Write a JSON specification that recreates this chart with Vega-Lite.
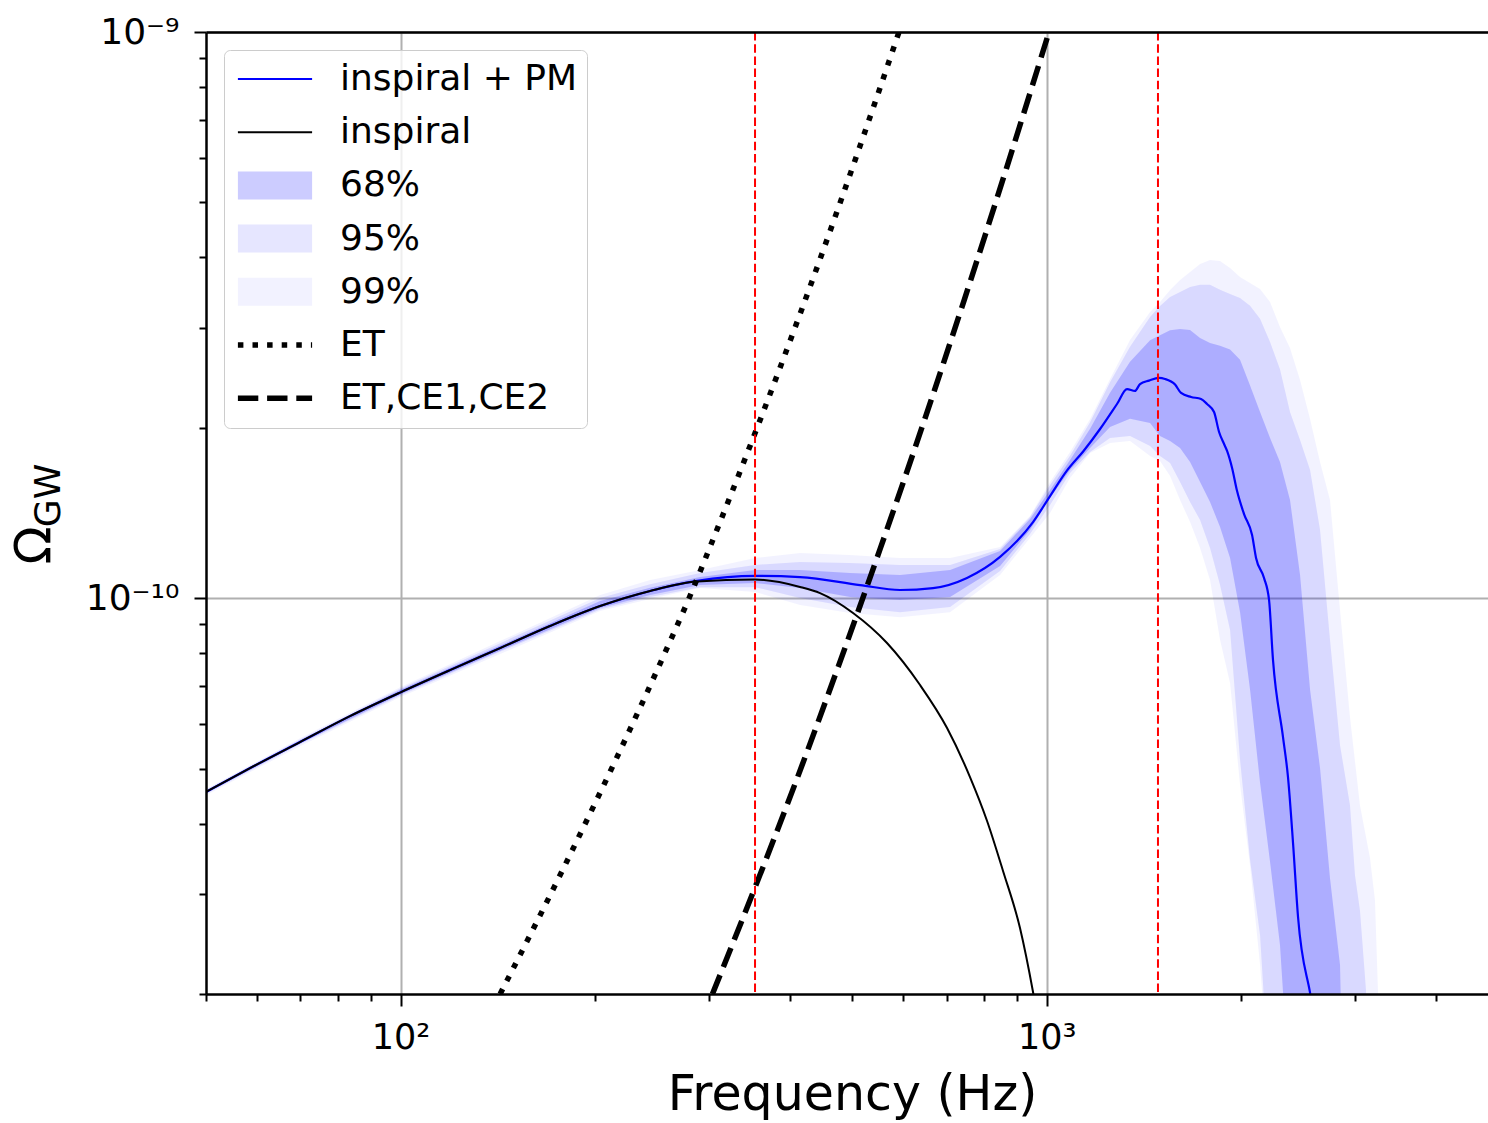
{
  "$schema": "https://vega.github.io/schema/vega-lite/v6.json",
  "width": 1282,
  "height": 962,
  "autosize": {"type": "none"},
  "padding": {"left": 206, "top": 32, "right": 0, "bottom": 129},
  "background": "white",
  "config": {"view": {"stroke": null}, "font": "DejaVu Sans"},
  "resolve": {"axis": {"x": "independent", "y": "independent"}},
  "datasets": {
    "b99": [
      {"f": 50, "lo": 4.49e-11, "hi": 4.60e-11},
      {"f": 69.9, "lo": 5.48e-11, "hi": 5.66e-11},
      {"f": 100, "lo": 6.69e-11, "hi": 6.97e-11},
      {"f": 142.6, "lo": 7.97e-11, "hi": 8.40e-11},
      {"f": 203.6, "lo": 9.49e-11, "hi": 1.013e-10},
      {"f": 243.3, "lo": 9.97e-11, "hi": 1.077e-10},
      {"f": 290.7, "lo": 1.042e-10, "hi": 1.122e-10},
      {"f": 353.6, "lo": 1.026e-10, "hi": 1.178e-10},
      {"f": 415.1, "lo": 9.73e-11, "hi": 1.202e-10},
      {"f": 496.2, "lo": 9.42e-11, "hi": 1.192e-10},
      {"f": 592.8, "lo": 9.26e-11, "hi": 1.178e-10},
      {"f": 708.5, "lo": 9.45e-11, "hi": 1.178e-10},
      {"f": 846.6, "lo": 1.099e-10, "hi": 1.232e-10},
      {"f": 941.9, "lo": 1.278e-10, "hi": 1.397e-10},
      {"f": 1011.6, "lo": 1.414e-10, "hi": 1.604e-10},
      {"f": 1086.3, "lo": 1.631e-10, "hi": 1.812e-10},
      {"f": 1166.7, "lo": 1.805e-10, "hi": 2.073e-10},
      {"f": 1252.7, "lo": 1.880e-10, "hi": 2.438e-10},
      {"f": 1345.1, "lo": 1.895e-10, "hi": 2.858e-10},
      {"f": 1444.6, "lo": 1.783e-10, "hi": 3.203e-10},
      {"f": 1496.7, "lo": 1.747e-10, "hi": 3.335e-10},
      {"f": 1551.4, "lo": 1.644e-10, "hi": 3.503e-10},
      {"f": 1607.6, "lo": 1.491e-10, "hi": 3.648e-10},
      {"f": 1666.0, "lo": 1.363e-10, "hi": 3.769e-10},
      {"f": 1726.4, "lo": 1.227e-10, "hi": 3.894e-10},
      {"f": 1788.8, "lo": 1.077e-10, "hi": 3.958e-10},
      {"f": 1853.8, "lo": 8.44e-11, "hi": 3.942e-10},
      {"f": 1921.2, "lo": 7.08e-11, "hi": 3.831e-10},
      {"f": 1990.7, "lo": 4.68e-11, "hi": 3.693e-10},
      {"f": 2063.0, "lo": 3.37e-11, "hi": 3.604e-10},
      {"f": 2137.8, "lo": 2.25e-11, "hi": 3.517e-10},
      {"f": 2215.4, "lo": 1.3e-11, "hi": 3.335e-10},
      {"f": 2295.1, "lo": 1.3e-11, "hi": 3.013e-10},
      {"f": 2378.6, "lo": 1.3e-11, "hi": 2.767e-10},
      {"f": 2465.3, "lo": 1.3e-11, "hi": 2.428e-10},
      {"f": 2554.9, "lo": 1.3e-11, "hi": 2.073e-10},
      {"f": 2647.4, "lo": 1.3e-11, "hi": 1.740e-10},
      {"f": 2743.2, "lo": 1.3e-11, "hi": 1.491e-10},
      {"f": 2842.7, "lo": 1.3e-11, "hi": 9.53e-11},
      {"f": 2945.4, "lo": 1.3e-11, "hi": 6.17e-11},
      {"f": 3052.0, "lo": 1.3e-11, "hi": 4.31e-11},
      {"f": 3162.9, "lo": 1.3e-11, "hi": 3.48e-11},
      {"f": 3219.7, "lo": 1.3e-11, "hi": 2.93e-11},
      {"f": 3254.2, "lo": 1.3e-11, "hi": 2.03e-11},
      {"f": 3277.6, "lo": 1.3e-11, "hi": 1.3e-11}
    ],
    "b95": [
      {"f": 50, "lo": 4.51e-11, "hi": 4.59e-11},
      {"f": 69.9, "lo": 5.52e-11, "hi": 5.63e-11},
      {"f": 100, "lo": 6.73e-11, "hi": 6.93e-11},
      {"f": 142.6, "lo": 8.04e-11, "hi": 8.33e-11},
      {"f": 203.6, "lo": 9.55e-11, "hi": 1.001e-10},
      {"f": 243.3, "lo": 1.005e-10, "hi": 1.059e-10},
      {"f": 290.7, "lo": 1.046e-10, "hi": 1.108e-10},
      {"f": 353.6, "lo": 1.046e-10, "hi": 1.145e-10},
      {"f": 415.1, "lo": 1.001e-10, "hi": 1.159e-10},
      {"f": 496.2, "lo": 9.65e-11, "hi": 1.154e-10},
      {"f": 592.8, "lo": 9.45e-11, "hi": 1.145e-10},
      {"f": 708.5, "lo": 9.65e-11, "hi": 1.145e-10},
      {"f": 846.6, "lo": 1.117e-10, "hi": 1.222e-10},
      {"f": 941.9, "lo": 1.299e-10, "hi": 1.391e-10},
      {"f": 1011.6, "lo": 1.461e-10, "hi": 1.585e-10},
      {"f": 1086.3, "lo": 1.664e-10, "hi": 1.785e-10},
      {"f": 1166.7, "lo": 1.812e-10, "hi": 2.045e-10},
      {"f": 1252.7, "lo": 1.919e-10, "hi": 2.406e-10},
      {"f": 1345.1, "lo": 1.934e-10, "hi": 2.781e-10},
      {"f": 1444.6, "lo": 1.857e-10, "hi": 3.138e-10},
      {"f": 1496.7, "lo": 1.783e-10, "hi": 3.281e-10},
      {"f": 1551.4, "lo": 1.733e-10, "hi": 3.404e-10},
      {"f": 1607.6, "lo": 1.604e-10, "hi": 3.474e-10},
      {"f": 1666.0, "lo": 1.479e-10, "hi": 3.546e-10},
      {"f": 1726.4, "lo": 1.374e-10, "hi": 3.579e-10},
      {"f": 1788.8, "lo": 1.227e-10, "hi": 3.579e-10},
      {"f": 1853.8, "lo": 1.055e-10, "hi": 3.507e-10},
      {"f": 1921.2, "lo": 8.79e-11, "hi": 3.446e-10},
      {"f": 1990.7, "lo": 5.18e-11, "hi": 3.390e-10},
      {"f": 2063.0, "lo": 3.45e-11, "hi": 3.285e-10},
      {"f": 2137.8, "lo": 2.54e-11, "hi": 3.116e-10},
      {"f": 2215.4, "lo": 1.3e-11, "hi": 2.835e-10},
      {"f": 2295.1, "lo": 1.3e-11, "hi": 2.537e-10},
      {"f": 2378.6, "lo": 1.3e-11, "hi": 2.132e-10},
      {"f": 2465.3, "lo": 1.3e-11, "hi": 1.903e-10},
      {"f": 2554.9, "lo": 1.3e-11, "hi": 1.684e-10},
      {"f": 2647.4, "lo": 1.3e-11, "hi": 1.320e-10},
      {"f": 2743.2, "lo": 1.3e-11, "hi": 8.44e-11},
      {"f": 2842.7, "lo": 1.3e-11, "hi": 5.50e-11},
      {"f": 2945.4, "lo": 1.3e-11, "hi": 4.31e-11},
      {"f": 2998.3, "lo": 1.3e-11, "hi": 3.24e-11},
      {"f": 3052.0, "lo": 1.3e-11, "hi": 2.81e-11},
      {"f": 3118.3, "lo": 1.3e-11, "hi": 2.03e-11},
      {"f": 3140.6, "lo": 1.3e-11, "hi": 1.3e-11}
    ],
    "b68": [
      {"f": 50, "lo": 4.53e-11, "hi": 4.57e-11},
      {"f": 69.9, "lo": 5.54e-11, "hi": 5.61e-11},
      {"f": 100, "lo": 6.77e-11, "hi": 6.89e-11},
      {"f": 142.6, "lo": 8.08e-11, "hi": 8.25e-11},
      {"f": 203.6, "lo": 9.61e-11, "hi": 9.89e-11},
      {"f": 243.3, "lo": 1.013e-10, "hi": 1.044e-10},
      {"f": 290.7, "lo": 1.055e-10, "hi": 1.090e-10},
      {"f": 353.6, "lo": 1.064e-10, "hi": 1.122e-10},
      {"f": 415.1, "lo": 1.042e-10, "hi": 1.122e-10},
      {"f": 496.2, "lo": 1.005e-10, "hi": 1.108e-10},
      {"f": 592.8, "lo": 9.93e-11, "hi": 1.099e-10},
      {"f": 708.5, "lo": 1.005e-10, "hi": 1.122e-10},
      {"f": 846.6, "lo": 1.140e-10, "hi": 1.212e-10},
      {"f": 941.9, "lo": 1.320e-10, "hi": 1.380e-10},
      {"f": 1011.6, "lo": 1.503e-10, "hi": 1.553e-10},
      {"f": 1086.3, "lo": 1.684e-10, "hi": 1.754e-10},
      {"f": 1166.7, "lo": 1.842e-10, "hi": 1.993e-10},
      {"f": 1252.7, "lo": 2.007e-10, "hi": 2.307e-10},
      {"f": 1345.1, "lo": 2.075e-10, "hi": 2.617e-10},
      {"f": 1444.6, "lo": 2.039e-10, "hi": 2.855e-10},
      {"f": 1496.7, "lo": 1.934e-10, "hi": 2.913e-10},
      {"f": 1551.4, "lo": 1.895e-10, "hi": 2.973e-10},
      {"f": 1607.6, "lo": 1.842e-10, "hi": 2.989e-10},
      {"f": 1666.0, "lo": 1.740e-10, "hi": 2.977e-10},
      {"f": 1726.4, "lo": 1.604e-10, "hi": 2.882e-10},
      {"f": 1788.8, "lo": 1.479e-10, "hi": 2.823e-10},
      {"f": 1853.8, "lo": 1.336e-10, "hi": 2.793e-10},
      {"f": 1921.2, "lo": 1.178e-10, "hi": 2.750e-10},
      {"f": 1990.7, "lo": 9.45e-11, "hi": 2.638e-10},
      {"f": 2063.0, "lo": 6.89e-11, "hi": 2.375e-10},
      {"f": 2137.8, "lo": 4.72e-11, "hi": 2.132e-10},
      {"f": 2215.4, "lo": 3.42e-11, "hi": 1.919e-10},
      {"f": 2295.1, "lo": 2.44e-11, "hi": 1.740e-10},
      {"f": 2378.6, "lo": 1.3e-11, "hi": 1.491e-10},
      {"f": 2465.3, "lo": 1.3e-11, "hi": 1.099e-10},
      {"f": 2554.9, "lo": 1.3e-11, "hi": 6.89e-11},
      {"f": 2647.4, "lo": 1.3e-11, "hi": 5.01e-11},
      {"f": 2743.2, "lo": 1.3e-11, "hi": 3.20e-11},
      {"f": 2842.7, "lo": 1.3e-11, "hi": 2.25e-11},
      {"f": 2873.0, "lo": 1.3e-11, "hi": 1.3e-11}
    ],
    "pm": [
      {"f": 50, "omega": 4.548e-11}, {"f": 58.5, "omega": 5.012e-11}, {"f": 69.9, "omega": 5.572e-11},
      {"f": 83.5, "omega": 6.191e-11}, {"f": 100.2, "omega": 6.828e-11}, {"f": 119.3, "omega": 7.466e-11},
      {"f": 142.6, "omega": 8.166e-11}, {"f": 170.3, "omega": 8.932e-11}, {"f": 203.6, "omega": 9.688e-11},
      {"f": 243.3, "omega": 1.030e-10}, {"f": 287.6, "omega": 1.073e-10}, {"f": 353.6, "omega": 1.095e-10},
      {"f": 415.1, "omega": 1.090e-10}, {"f": 514.0, "omega": 1.055e-10}, {"f": 592.8, "omega": 1.034e-10},
      {"f": 666.8, "omega": 1.042e-10}, {"f": 752.5, "omega": 1.086e-10}, {"f": 846.6, "omega": 1.183e-10},
      {"f": 952.1, "omega": 1.363e-10}, {"f": 1011.6, "omega": 1.515e-10}, {"f": 1073.6, "omega": 1.678e-10},
      {"f": 1139.9, "omega": 1.820e-10}, {"f": 1208.9, "omega": 1.990e-10}, {"f": 1284.2, "omega": 2.203e-10},
      {"f": 1330.9, "omega": 2.341e-10}, {"f": 1369.2, "omega": 2.323e-10}, {"f": 1393.9, "omega": 2.389e-10},
      {"f": 1439.3, "omega": 2.423e-10}, {"f": 1491.5, "omega": 2.449e-10}, {"f": 1523.8, "omega": 2.439e-10},
      {"f": 1579.3, "omega": 2.384e-10}, {"f": 1613.4, "omega": 2.304e-10}, {"f": 1672.1, "omega": 2.267e-10},
      {"f": 1732.4, "omega": 2.248e-10}, {"f": 1769.9, "omega": 2.203e-10}, {"f": 1814.6, "omega": 2.132e-10},
      {"f": 1847.4, "omega": 1.966e-10}, {"f": 1880.4, "omega": 1.872e-10}, {"f": 1900.8, "omega": 1.820e-10},
      {"f": 1935.0, "omega": 1.698e-10}, {"f": 1969.8, "omega": 1.546e-10}, {"f": 2019.3, "omega": 1.408e-10},
      {"f": 2077.9, "omega": 1.293e-10}, {"f": 2107.5, "omega": 1.178e-10}, {"f": 2168.4, "omega": 1.086e-10},
      {"f": 2207.4, "omega": 9.93e-11}, {"f": 2238.7, "omega": 7.78e-11}, {"f": 2320.0, "omega": 5.687e-11},
      {"f": 2361.6, "omega": 4.832e-11}, {"f": 2404.4, "omega": 3.695e-11}, {"f": 2447.6, "omega": 2.735e-11},
      {"f": 2554.9, "omega": 2.009e-11}, {"f": 2573, "omega": 1.92e-11}
    ],
    "insp": [
      {"f": 50, "omega": 4.548e-11}, {"f": 58.5, "omega": 5.012e-11}, {"f": 69.9, "omega": 5.572e-11},
      {"f": 83.5, "omega": 6.191e-11}, {"f": 100.2, "omega": 6.828e-11}, {"f": 119.3, "omega": 7.466e-11},
      {"f": 142.6, "omega": 8.166e-11}, {"f": 170.3, "omega": 8.932e-11}, {"f": 203.6, "omega": 9.688e-11},
      {"f": 243.3, "omega": 1.030e-10}, {"f": 287.6, "omega": 1.070e-10}, {"f": 353.6, "omega": 1.079e-10},
      {"f": 415.1, "omega": 1.047e-10}, {"f": 445.8, "omega": 1.021e-10}, {"f": 501.4, "omega": 9.417e-11},
      {"f": 565.9, "omega": 8.334e-11}, {"f": 636.6, "omega": 7.026e-11}, {"f": 700.9, "omega": 5.899e-11},
      {"f": 760.6, "omega": 4.832e-11}, {"f": 808.3, "omega": 4.042e-11}, {"f": 855.6, "omega": 3.298e-11},
      {"f": 908.9, "omega": 2.615e-11}, {"f": 952.1, "omega": 2.016e-11}, {"f": 958.7, "omega": 1.93e-11}
    ],
    "et": [
      {"f": 142.6, "omega": 2.0e-11}, {"f": 179.1, "omega": 3.353e-11}, {"f": 253.6, "omega": 7.78e-11},
      {"f": 279.6, "omega": 1.001e-10}, {"f": 310.1, "omega": 1.338e-10}, {"f": 415.1, "omega": 3.176e-10},
      {"f": 546.8, "omega": 7.72e-10}, {"f": 590.6, "omega": 1.0e-9}
    ],
    "ce": [
      {"f": 303.8, "omega": 2.0e-11}, {"f": 352.9, "omega": 3.067e-11}, {"f": 410.1, "omega": 4.781e-11},
      {"f": 476.1, "omega": 7.595e-11}, {"f": 552.9, "omega": 1.227e-10}, {"f": 642.3, "omega": 2.017e-10},
      {"f": 745.9, "omega": 3.376e-10}, {"f": 866.1, "omega": 5.745e-10}, {"f": 1007.9, "omega": 1.0e-9}
    ],
    "vlines": [{"f": 353.6}, {"f": 1486}]
  },
  "layer": [
    {
      "data": {"name": "b99"},
      "mark": {"type": "area", "color": "#0000ff", "opacity": 0.05, "clip": true},
      "encoding": {
        "x": {
          "field": "f", "type": "quantitative",
          "scale": {"type": "log", "domain": [50, 4816], "nice": false},
          "axis": {
            "orient": "bottom", "values": [100, 1000],
            "labelExpr": "datum.value < 500 ? '10²' : '10³'",
            "tickSize": 12, "tickWidth": 2, "tickColor": "black",
            "domain": false, "grid": true, "gridColor": "#b0b0b0", "gridWidth": 2,
            "labelFont": "DejaVu Sans", "labelFontSize": 35, "labelColor": "black", "labelPadding": 14,
            "labelFlush": false, "labelOverlap": false,
            "title": "Frequency (Hz)", "titleFont": "DejaVu Sans", "titleFontSize": 49, "titleFontWeight": "normal",
            "titleColor": "black", "titleX": 646, "titleY": 115, "titleBaseline": "alphabetic", "titleAlign": "center",
            "zindex": 0
          }
        },
        "y": {
          "field": "lo", "type": "quantitative",
          "scale": {"type": "log", "domain": [2e-11, 1e-9], "nice": false},
          "axis": {
            "orient": "left", "values": [1e-10, 1e-9],
            "labelExpr": "datum.value < 5e-10 ? '10⁻¹⁰' : '10⁻⁹'",
            "tickSize": 12, "tickWidth": 2, "tickColor": "black",
            "domain": false, "grid": true, "gridColor": "#b0b0b0", "gridWidth": 2,
            "labelFont": "DejaVu Sans", "labelFontSize": 36, "labelColor": "black", "labelPadding": 15,
            "labelFlush": false, "labelOverlap": false, "labelBaseline": "middle",
            "title": "Ω", "titleFont": "DejaVu Sans", "titleFontSize": 50, "titleFontWeight": "normal",
            "titleColor": "black", "titleAngle": 270, "titleX": -172, "titleY": 513,
            "titleBaseline": "middle", "titleAlign": "center",
            "zindex": 0
          }
        },
        "y2": {"field": "hi"}
      }
    },
    {
      "data": {"name": "b95"},
      "mark": {"type": "area", "color": "#0000ff", "opacity": 0.1, "clip": true},
      "encoding": {
        "x": {
          "field": "f", "type": "quantitative",
          "axis": {
            "orient": "bottom",
            "values": [50, 60, 70, 80, 90, 200, 300, 400, 500, 600, 700, 800, 900, 2000, 3000, 4000],
            "tickSize": 7, "tickWidth": 2, "tickColor": "black",
            "labels": false, "grid": false, "title": null,
            "domain": true, "domainColor": "black", "domainWidth": 2.5,
            "zindex": 1
          }
        },
        "y": {
          "field": "lo", "type": "quantitative",
          "axis": {
            "orient": "left",
            "values": [2e-11, 3e-11, 4e-11, 5e-11, 6e-11, 7e-11, 8e-11, 9e-11, 2e-10, 3e-10, 4e-10, 5e-10, 6e-10, 7e-10, 8e-10, 9e-10],
            "tickSize": 7, "tickWidth": 2, "tickColor": "black",
            "labels": false, "grid": false,
            "domain": true, "domainColor": "black", "domainWidth": 2.5,
            "title": "GW", "titleFont": "DejaVu Sans", "titleFontSize": 36, "titleFontWeight": "normal",
            "titleColor": "black", "titleAngle": 270, "titleX": -158, "titleY": 463,
            "titleBaseline": "middle", "titleAlign": "center",
            "zindex": 1
          }
        },
        "y2": {"field": "hi"}
      }
    },
    {
      "data": {"name": "b68"},
      "mark": {"type": "area", "color": "#0000ff", "opacity": 0.2, "clip": true},
      "encoding": {
        "x": {
          "field": "f", "type": "quantitative",
          "axis": {
            "orient": "top", "ticks": false, "labels": false, "grid": false, "title": null,
            "domain": true, "domainColor": "black", "domainWidth": 2.5, "zindex": 1
          }
        },
        "y": {"field": "lo", "type": "quantitative", "axis": null},
        "y2": {"field": "hi"}
      }
    },
    {
      "data": {"name": "pm"},
      "mark": {"type": "line", "color": "#0000ff", "strokeWidth": 2.2, "clip": true, "interpolate": "monotone"},
      "encoding": {
        "x": {"field": "f", "type": "quantitative", "axis": null},
        "y": {"field": "omega", "type": "quantitative", "axis": null}
      }
    },
    {
      "data": {"name": "insp"},
      "mark": {"type": "line", "color": "#000000", "strokeWidth": 2, "clip": true, "interpolate": "monotone"},
      "encoding": {
        "x": {"field": "f", "type": "quantitative", "axis": null},
        "y": {"field": "omega", "type": "quantitative", "axis": null}
      }
    },
    {
      "data": {"name": "et"},
      "mark": {"type": "line", "color": "#000000", "strokeWidth": 5.5, "strokeDash": [5.5, 9.1], "clip": true, "interpolate": "monotone"},
      "encoding": {
        "x": {"field": "f", "type": "quantitative", "axis": null},
        "y": {"field": "omega", "type": "quantitative", "axis": null}
      }
    },
    {
      "data": {"name": "ce"},
      "mark": {"type": "line", "color": "#000000", "strokeWidth": 5.5, "strokeDash": [20.4, 8.8], "clip": true, "interpolate": "monotone"},
      "encoding": {
        "x": {"field": "f", "type": "quantitative", "axis": null},
        "y": {"field": "omega", "type": "quantitative", "axis": null}
      }
    },
    {
      "data": {"name": "vlines"},
      "mark": {"type": "rule", "color": "#ff0000", "strokeWidth": 2, "strokeDash": [8.5, 3.7], "clip": true},
      "encoding": {
        "x": {"field": "f", "type": "quantitative", "axis": null}
      }
    },
    {
      "data": {"name": "vlines"},
      "mark": {"type": "rule", "opacity": 0},
      "encoding": {
        "x": {"field": "f", "type": "quantitative", "axis": null},
        "color": {
          "datum": "inspiral + PM", "type": "nominal",
          "scale": {
            "domain": ["inspiral + PM", "inspiral", "68%", "95%", "99%", "ET", "ET,CE1,CE2"],
            "range": ["#0000ff", "#000000", "#ccccff", "#e6e6ff", "#f2f2ff", "#000000", "#000000"]
          },
          "legend": {
            "title": null,
            "orient": "top-left",
            "offset": 18,
            "padding": 9,
            "fillColor": "rgba(255,255,255,0.8)",
            "strokeColor": "#cccccc",
            "cornerRadius": 6,
            "clipHeight": 40,
            "rowPadding": 13.2,
            "symbolType": "M-2.65,0H2.65",
            "symbolSize": 784,
            "symbolOpacity": 1,
            "symbolStrokeWidth": {"expr": "indexof(['68%','95%','99%'], datum.value) >= 0 ? 28 : (indexof(['ET','ET,CE1,CE2'], datum.value) >= 0 ? 5.5 : 2)"},
            "symbolDash": {"expr": "datum.value === 'ET' ? [5.5, 9.1] : (datum.value === 'ET,CE1,CE2' ? [20.4, 8.8] : [1, 0])"},
            "symbolOffset": 24,
            "labelOffset": 47,
            "labelFont": "DejaVu Sans",
            "labelFontSize": 36,
            "labelColor": "black",
            "labelLimit": 0
          }
        }
      }
    }
  ]
}
